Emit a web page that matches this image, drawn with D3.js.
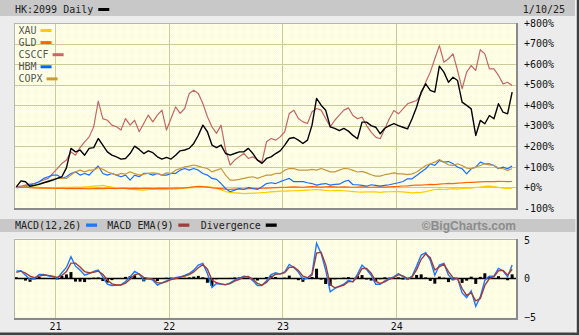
<!DOCTYPE html>
<html><head><meta charset="utf-8">
<script src="https://cdn.jsdelivr.net/npm/d3@7"></script>
<style>html,body{margin:0;padding:0;background:#ececec;overflow:hidden}</style>
</head><body><svg id="c" width="579" height="335"></svg>
<script>
// ---- data (decimal years, % change, MACD values) ----
const times = [2020.66,2020.70,2020.74,2020.78,2020.82,2020.86,2020.90,2020.94,2020.98,
2021.02,2021.06,2021.10,2021.14,2021.18,2021.22,2021.26,2021.30,2021.34,2021.38,2021.42,2021.46,2021.50,2021.54,2021.58,2021.62,2021.66,2021.70,2021.74,2021.78,2021.82,2021.86,2021.90,2021.94,2021.98,
2022.02,2022.06,2022.10,2022.14,2022.18,2022.22,2022.26,2022.30,2022.34,2022.38,2022.42,2022.46,2022.50,2022.54,2022.58,2022.62,2022.66,2022.70,2022.74,2022.78,2022.82,2022.86,2022.90,2022.94,2022.98,
2023.02,2023.06,2023.10,2023.14,2023.18,2023.22,2023.26,2023.30,2023.34,2023.38,2023.42,2023.46,2023.50,2023.54,2023.58,2023.62,2023.66,2023.70,2023.74,2023.78,2023.82,2023.86,2023.90,2023.94,2023.98,
2024.02,2024.06,2024.10,2024.14,2024.18,2024.22,2024.26,2024.30,2024.34,2024.38,2024.42,2024.46,2024.50,2024.54,2024.58,2024.62,2024.66,2024.70,2024.74,2024.78,2024.82,2024.86,2024.90,2024.94,2024.98,
2025.02];

const hk2099 = [3,32,28,6,10,15,23,29,36,44,52,95,190,173,182,157,190,194,238,206,173,157,149,138,141,165,201,185,165,178,169,149,138,146,138,157,178,
182,190,214,254,303,271,206,194,206,165,157,165,173,173,190,165,133,117,141,149,165,178,206,238,243,230,214,230,303,433,400,376,295,287,276,287,
274,
253,237,318,318,301,293,261,288,301,310,301,293,285,334,391,464,504,472,464,590,561,512,536,520,415,399,382,253,326,310,350,334,407,366,358,464];

const xau = [0,2,4,3,2,0,-2,-3,-2,
-2,0,1,0,2,0,3,4,6,
8,10,5,2,-2,-4,-6,-8,-10,
-12,-13,-10,-9,-10,-11,-9,-10,-8,
-6,-3,-2,-1,0,2,3,2,-5,-12,
-20,-24,-26,-28,-30,-29,-28,-27,-25,-24,
-22,-20,-18,-18,-17,-16,-15,-14,-13,
-12,-10,-12,-14,-16,-15,-14,-16,
-18,-20,-22,-23,-22,-21,-22,-24,-22,
-21,-20,-20,-22,-24,-26,-25,-24,-20,
-15,-10,-8,-10,-8,-6,-8,-5,-3,
-4,0,2,5,6,4,0,-3,-5,-4];

const gld = [0,2,1,-1,-2,-3,-2,-3,-4,
-5,-4,-6,-5,-6,-5,-6,-7,-6,
-5,-6,-5,-5,-6,-4,-5,-6,-5,
-6,-5,-5,-6,-5,-4,-5,-4,-3,
-3,-2,0,3,5,4,2,-2,-4,-6,
-8,-9,-8,-7,-8,-6,-5,-6,-4,-3,
-2,-1,0,1,2,3,2,1,3,
4,3,2,3,4,3,2,3,
2,1,2,3,2,1,2,3,2,
3,4,5,7,8,10,12,11,13,
15,14,16,18,20,19,21,22,24,
25,26,27,28,29,28,30,29,28,29];

const csccf = [3,6,11,16,19,28,36,44,68,92,117,133,173,157,194,222,246,295,420,335,327,303,295,279,335,303,327,271,311,352,319,352,376,279,335,392,360,
384,457,473,457,408,344,295,263,303,182,109,133,149,165,141,149,133,125,222,238,230,246,271,360,376,335,319,311,368,384,376,335,295,327,352,376,
387,
350,334,342,301,269,245,237,285,334,374,358,382,407,415,423,455,512,561,626,690,609,626,650,569,480,561,593,569,670,650,577,577,545,504,512,496];

const hbm = [-2,3,6,11,19,28,44,52,60,60,44,52,68,76,60,68,60,84,104,68,60,68,60,52,60,36,60,52,68,68,60,68,60,60,68,68,84,
92,84,92,84,68,60,44,39,19,-5,-21,-13,-5,-10,0,-5,-10,3,19,23,19,28,36,44,28,28,28,23,19,11,16,19,11,15,16,28,
35,
13,13,10,6,13,10,6,10,13,18,23,29,42,42,58,75,91,115,107,131,123,126,115,99,91,66,91,99,123,115,115,107,91,99,91,104];

const copx = [0,3,6,6,11,19,23,32,39,44,44,44,60,76,84,76,84,84,97,88,76,68,60,68,65,76,68,60,65,68,71,68,60,71,68,84,92,
100,104,109,104,97,92,76,84,92,60,36,36,39,44,49,52,44,52,60,60,68,68,84,92,92,84,84,84,88,84,92,84,76,76,84,92,
91,
83,75,78,71,62,55,55,62,66,71,66,66,62,66,75,91,107,115,123,136,123,110,107,115,107,94,91,99,107,115,110,107,94,91,83,91];

const macd = [0.96,1.0,0.43,-0.13,0,0.52,0.52,0.35,0.22,0.04,0.74,1.43,2.83,1.6,1.09,0.43,0.65,0.91,1.09,0.22,-0.74,-0.91,-0.87,-0.83,-0.39,0.22,0.91,0.57,-0.22,0,-0.22,-0.87,-0.57,-0.3,-0.04,0.09,0.22,0.39,0.65,1.09,1.74,1.96,0.65,-1.17,-0.65,-0.74,-0.83,-0.57,-0.22,0.04,0.3,0.22,-0.3,-0.91,-0.91,-0.3,0.52,0.74,0.57,0.87,1.83,1.43,0.83,
-0.13,0.04,0.65,4.57,3.26,1.09,-1.74,-1.3,-1.0,-0.74,-0.22,-0.43,0.57,1.74,1.17,0.43,-0.74,-0.74,-0.3,0,0.22,0.65,0.22,-0.13,0.3,1.61,3.04,3.35,2.39,0.43,1.74,1.96,0.43,-0.13,0,-1.87,-2.48,-1.61,-3.6,-2.39,-0.22,0.3,0.3,1.3,1.0,0.22,1.74];

const macdEma = [0.8,0.95,0.7,0.3,0.1,0.3,0.45,0.4,0.3,0.15,0.4,0.9,2.0,2.0,1.5,0.9,0.75,0.8,0.95,0.55,-0.2,-0.7,-0.85,-0.85,-0.6,-0.1,0.5,0.6,0.15,0,-0.1,-0.55,-0.6,-0.4,-0.15,0,0.15,0.3,0.5,0.85,1.4,1.8,1.2,-0.2,-0.55,-0.7,-0.8,-0.65,-0.35,-0.1,0.2,0.25,-0.1,-0.65,-0.85,-0.5,0.15,0.55,0.6,0.75,1.45,1.5,1.05,
0.3,0.1,0.45,3.3,3.4,1.8,-0.8,-1.2,-1.05,-0.85,-0.4,-0.4,0.25,1.3,1.3,0.7,-0.35,-0.65,-0.45,-0.1,0.15,0.5,0.35,0.0,0.2,1.15,2.5,3.2,2.7,1.1,1.5,1.85,0.9,0.1,0.0,-1.3,-2.2,-1.85,-2.9,-2.6,-0.9,0.0,0.25,1.0,1.05,0.45,1.2];

const divergence = [0.16,0.05,-0.27,-0.43,-0.1,0.22,0.07,-0.05,-0.08,-0.11,0.34,0.53,0.83,-0.4,-0.41,-0.47,-0.1,0.11,0.14,-0.33,-0.54,-0.21,-0.02,0.02,0.21,0.32,0.41,-0.03,-0.37,0,-0.12,-0.32,0.03,0.1,0.11,0.09,0.07,0.09,0.15,0.24,0.34,0.16,-0.55,-0.97,-0.1,-0.04,-0.03,0.08,0.13,0.14,0.1,-0.03,-0.2,-0.26,-0.06,0.2,0.37,0.19,-0.03,0.12,0.38,-0.07,-0.22,
-0.43,-0.06,0.2,1.27,-0.14,-0.71,-0.94,-0.1,0.05,0.11,0.18,-0.03,0.32,0.44,-0.13,-0.27,-0.39,-0.09,0.15,0.1,0.07,0.15,-0.13,-0.13,0.1,0.46,0.54,0.15,-0.31,-0.67,0.24,0.11,-0.47,-0.23,0,-0.57,-0.28,0.24,-0.7,0.21,0.68,0.3,0.05,0.3,-0.05,-0.23,0.54];

const yearTicks = [2021, 2022, 2023, 2024];
const yearLabels = ["21", "22", "23", "24"];
const pctTicks = [800, 700, 600, 500, 400, 300, 200, 100, 0, -100];
const macdTicks = [5, 0, -5];
const legendNames = ["XAU", "GLD", "CSCCF", "HBM", "COPX"];
const legendColors = ["#ffcc00", "#ff6600", "#cc6666", "#0066ff", "#cc9933"];

// ---- drawing ----
const MONO = "'DejaVu Sans Mono', monospace";
const svg = d3.select("#c");
const W = 579, H = 335;
svg.append("rect").attr("width", W).attr("height", H).attr("fill", "#ececec");

const defs = svg.append("defs");
const pat = defs.append("pattern").attr("id", "dots").attr("width", 2).attr("height", 2)
  .attr("patternUnits", "userSpaceOnUse");
pat.append("rect").attr("width", 2).attr("height", 2).attr("fill", "#ffffcc");
pat.append("rect").attr("width", 1).attr("height", 1).attr("fill", "#ffffff");
pat.append("rect").attr("x", 1).attr("y", 1).attr("width", 1).attr("height", 1).attr("fill", "#ffffff");

const PL = 14, PR = 516;
const x = d3.scaleLinear().domain([2020.639, 2025.054]).range([PL, PR]);
const y = d3.scaleLinear().domain([-100, 800]).range([208, 23]);
const ym = d3.scaleLinear().domain([-5, 5]).range([317, 240]);

// header bar
svg.append("rect").attr("x", 0).attr("y", 0).attr("width", 575).attr("height", 16).attr("fill", "#c8c8c8");
const ht = svg.append("text").attr("x", 15).attr("y", 13).attr("font-family", MONO).attr("font-size", 10)
  .attr("fill", "#222").text("HK:2099 Daily");
const htw = ht.node().getComputedTextLength();
svg.append("rect").attr("x", 15 + htw + 5).attr("y", 8).attr("width", 11).attr("height", 3).attr("fill", "#000");
svg.append("text").attr("x", 565).attr("y", 13).attr("text-anchor", "end").attr("font-family", MONO)
  .attr("font-size", 10).attr("fill", "#222").text("1/10/25");

function panel(top, bottom, yScale, ticks) {
  svg.append("rect").attr("x", PL).attr("y", top).attr("width", PR - PL).attr("height", bottom - top)
    .attr("fill", "url(#dots)");
  const g = svg.append("g").attr("shape-rendering", "crispEdges");
  g.selectAll("line.h").data(ticks).enter().append("line")
    .attr("x1", PL).attr("x2", PR).attr("y1", d => Math.round(yScale(d)) + 0.5).attr("y2", d => Math.round(yScale(d)) + 0.5)
    .attr("stroke", "#cccc99").attr("stroke-width", 1);
  g.selectAll("line.v").data(yearTicks).enter().append("line")
    .attr("y1", top).attr("y2", bottom).attr("x1", d => Math.round(x(d)) + 0.5).attr("x2", d => Math.round(x(d)) + 0.5)
    .attr("stroke", "#cccc99").attr("stroke-width", 1);
}
function frame(top, bottom) {
  const g = svg.append("g").attr("shape-rendering", "crispEdges");
  g.append("line").attr("x1", PL).attr("x2", PR).attr("y1", top + 0.5).attr("y2", top + 0.5).attr("stroke", "#b4b4b4");
  g.append("line").attr("x1", PL + 0.5).attr("x2", PL + 0.5).attr("y1", top).attr("y2", bottom).attr("stroke", "#b4b4b4");
  g.append("rect").attr("x", PL).attr("y", bottom).attr("width", PR - PL + 2).attr("height", 2).attr("fill", "#8a8a8a");
  g.append("rect").attr("x", PR).attr("y", top).attr("width", 2).attr("height", bottom - top + 2).attr("fill", "#8a8a8a");
}

// ---- main panel ----
panel(23, 208, y, pctTicks.filter(d => d < 800 && d > -100));

const line = d3.line().x((d, i) => x(times[i])).y(d => y(d));
const series = [
  {v: xau, c: "#ffcc00", w: 1.2},
  {v: gld, c: "#ff6600", w: 1.2},
  {v: csccf, c: "#c86464", w: 1.2},
  {v: hbm, c: "#1a6eff", w: 1.2},
  {v: copx, c: "#c8963c", w: 1.2},
  {v: hk2099, c: "#000000", w: 1.4}
];
const clip = defs.append("clipPath").attr("id", "mainclip");
clip.append("rect").attr("x", PL).attr("y", 23).attr("width", PR - PL).attr("height", 185);
const sg = svg.append("g").attr("clip-path", "url(#mainclip)");
series.forEach(s => {
  sg.append("path").datum(s.v).attr("d", line).attr("fill", "none")
    .attr("stroke", s.c).attr("stroke-width", s.w).attr("stroke-linejoin", "round");
});

// legend
legendNames.forEach((n, i) => {
  const by = 34 + i * 12.1;
  const t = svg.append("text").attr("x", 18.5).attr("y", by).attr("font-family", MONO).attr("font-size", 10)
    .attr("fill", "#555").text(n);
  const tw = t.node().getComputedTextLength();
  svg.append("rect").attr("x", 18.5 + tw + 4).attr("y", by - 5).attr("width", 11).attr("height", 3)
    .attr("fill", legendColors[i]);
});
frame(23, 208);

// right axis (percent)
const ax = svg.append("g").attr("transform", "translate(524,0)")
  .call(d3.axisRight(y).tickValues(pctTicks).tickSize(0).tickPadding(0)
    .tickFormat(d => (d >= 0 ? "+" : "") + d + "%"));
ax.select(".domain").remove();
ax.selectAll("text").attr("font-family", MONO).attr("font-size", 10).attr("fill", "#111");

// ---- MACD header ----
svg.append("rect").attr("x", 0).attr("y", 219).attr("width", 576).attr("height", 13).attr("fill", "#c8c8c8");
const macdLegend = [["MACD(12,26)", "#1e78ff", 15], ["MACD EMA(9)", "#a03c3c", 107.3], ["Divergence", "#000000", 200.7]];
macdLegend.forEach(([n, c, lx]) => {
  const t = svg.append("text").attr("x", lx).attr("y", 229.3).attr("font-family", MONO).attr("font-size", 10)
    .attr("fill", "#222").text(n);
  const tw = t.node().getComputedTextLength();
  svg.append("rect").attr("x", lx + tw + 4.8).attr("y", 223.5).attr("width", 11).attr("height", 3.3).attr("fill", c);
});
svg.append("text").attr("x", 516).attr("y", 229.5).attr("text-anchor", "end")
  .attr("font-family", "'Liberation Sans', Arial, sans-serif").attr("font-weight", "bold").attr("font-size", 12)
  .attr("fill", "#8c8c8c").text("\u00A9BigCharts.com");

// ---- MACD panel ----
panel(238.5, 317.5, ym, []);
const mclip = defs.append("clipPath").attr("id", "mclip");
mclip.append("rect").attr("x", PL).attr("y", 238.5).attr("width", PR - PL).attr("height", 79);
const mg = svg.append("g").attr("clip-path", "url(#mclip)");
mg.selectAll("rect.div").data(divergence).enter().append("rect")
  .attr("x", (d, i) => x(times[i]) - 1.5).attr("width", 3)
  .attr("y", d => Math.min(ym(d), ym(0))).attr("height", d => Math.abs(ym(d) - ym(0)))
  .attr("fill", "#000");
mg.append("line").attr("x1", PL).attr("x2", PR).attr("y1", ym(0)).attr("y2", ym(0))
  .attr("stroke", "#000").attr("stroke-width", 1.5);
const mline = d3.line().x((d, i) => x(times[i])).y(d => ym(d));
mg.append("path").datum(macd).attr("d", mline).attr("fill", "none").attr("stroke", "#1e78ff").attr("stroke-width", 1.4);
mg.append("path").datum(macdEma).attr("d", mline).attr("fill", "none").attr("stroke", "#a03c3c").attr("stroke-width", 1.4);
frame(238.5, 317.5);

const mx = svg.append("g").attr("transform", "translate(524,0)")
  .call(d3.axisRight(ym).tickValues(macdTicks).tickSize(0).tickPadding(0));
mx.select(".domain").remove();
mx.selectAll("text").attr("font-family", MONO).attr("font-size", 10).attr("fill", "#111");

// bottom axis
const bx = svg.append("g").attr("transform", "translate(0,322.4)")
  .call(d3.axisBottom(x).tickValues(yearTicks).tickSize(0).tickPadding(0).tickFormat((d, i) => yearLabels[i]));
bx.select(".domain").remove();
bx.selectAll("text").attr("font-family", MONO).attr("font-size", 10).attr("fill", "#111");

// outer border
svg.append("rect").attr("x", 576.5).attr("y", 0).attr("width", 2.5).attr("height", H).attr("fill", "#404040");
svg.append("rect").attr("x", 0).attr("y", 332.5).attr("width", W).attr("height", 2.5).attr("fill", "#404040");
svg.append("rect").attr("x", 575.5).attr("y", 0).attr("width", 1).attr("height", 332.5).attr("fill", "#f8f8f8");
</script></body></html>
